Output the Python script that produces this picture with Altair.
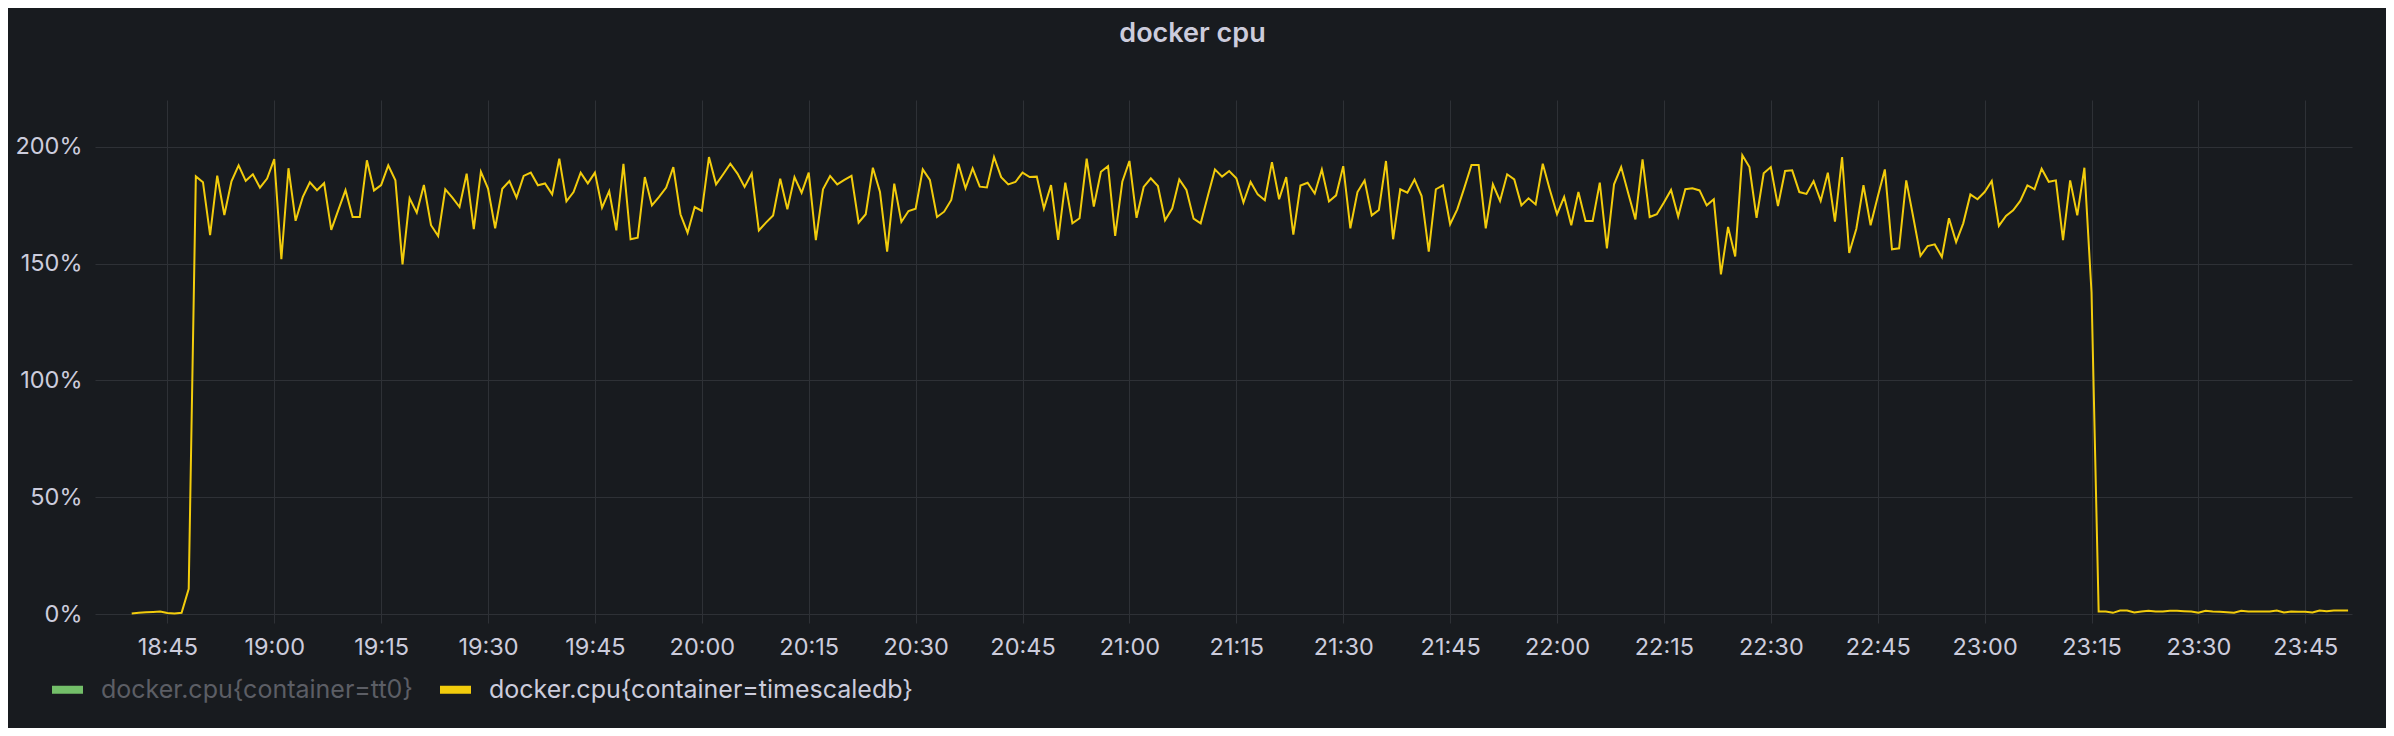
import altair as alt
import pandas as pd

# ---- data -------------------------------------------------------------
series_names = ["docker.cpu{container=tt0}", "docker.cpu{container=timescaledb}"]
series_colors = ["#73BF69", "#F2CC0C"]

start_time = "2024-01-01T18:40:00"   # first sample (UTC), one sample per minute
step_minutes = 1

cpu_startup = [0.2, 0.5, 0.7, 0.9, 1.1, 0.4, 0.2, 0.5, 10.8]

cpu_1848_1959 = [187.3, 184.8, 162.2, 187.6, 170.8, 185.2, 192.0, 185.4, 188.2, 182.5,
                 186.4, 194.7, 151.9, 190.8, 168.3, 178.4, 184.8, 181.4, 184.4, 164.4,
                 173.0, 181.4, 169.9, 169.9, 194.2, 181.3, 183.6, 192.0, 185.6, 149.6,
                 177.9, 171.8, 183.6, 166.4, 161.8, 181.8, 178.2, 174.2, 188.5, 164.7,
                 189.3, 182.1, 165.1, 182.0, 185.3, 178.2, 187.5, 188.9, 183.5, 184.3,
                 179.6, 194.9, 176.6, 180.6, 188.9, 184.3, 188.9, 173.9, 181.0, 164.2,
                 192.7, 160.4, 161.1, 187.0, 174.9, 178.5, 182.5, 191.3, 171.1, 163.2,
                 174.2, 172.5]

cpu_2001_2109 = [195.6, 183.9, 188.2, 192.7, 188.5, 182.8, 188.5, 164.2, 167.5, 170.6,
                 186.3, 173.2, 187.0, 180.3, 188.9, 160.0, 181.8, 187.5, 183.9, 185.8,
                 187.5, 167.5, 171.1, 191.0, 180.6, 155.1, 184.2, 167.8, 172.5, 173.5,
                 190.3, 185.8, 169.9, 172.2, 177.2, 192.7, 182.2, 190.7, 182.9, 182.6,
                 195.6, 187.0, 183.9, 184.9, 188.9, 187.0, 187.2, 173.5, 183.6, 160.1,
                 184.6, 167.2, 169.4, 194.9, 174.4, 189.3, 191.7, 161.8, 185.0, 193.9,
                 169.6, 182.8, 186.5, 183.2, 168.5, 173.5, 186.0, 181.5, 169.2]

cpu_2110_2222 = [167.2, 178.9, 190.3, 187.2, 189.6, 186.5, 176.1, 184.9, 179.6, 177.1,
                 193.4, 177.5, 187.0, 162.4, 183.4, 184.6, 180.0, 190.3, 176.6, 179.2,
                 191.7, 165.1, 180.6, 185.6, 170.6, 172.9, 193.9, 160.4, 181.8, 180.3,
                 186.0, 178.9, 155.1, 181.8, 183.5, 166.8, 173.2, 182.5, 192.2, 192.2,
                 165.1, 183.9, 176.8, 188.2, 186.0, 174.9, 177.9, 175.3, 192.7, 181.5,
                 171.1, 178.5, 166.4, 180.6, 168.2, 168.2, 184.6, 156.5, 183.9, 191.3,
                 180.0, 168.9, 194.6, 169.9, 171.1, 176.1, 181.5, 170.1, 181.8, 182.2,
                 181.3, 174.9, 177.5]

cpu_2223_2315 = [145.4, 165.7, 153.0, 196.4, 191.3, 169.6, 188.6, 191.3, 174.6, 189.6,
                 189.9, 180.6, 179.8, 185.3, 176.8, 188.9, 167.9, 195.6, 154.5, 164.9,
                 183.5, 166.4, 178.6, 190.3, 156.1, 156.5, 185.6, 169.6, 153.3, 157.5,
                 158.2, 152.8, 169.4, 159.2, 167.2, 179.6, 177.5, 180.6, 185.3, 166.1,
                 170.4, 172.8, 176.8, 183.5, 181.8, 190.6, 185.0, 185.6, 160.0, 185.6,
                 170.6, 191.0, 137.6]

cpu_shutdown = [1.07, 1.07, 0.5, 1.5, 1.5, 0.64, 1.07, 1.35, 1.07, 1.07,
                1.35, 1.35, 1.2, 1.07, 0.5, 1.35, 1.07, 0.93, 0.78, 0.5,
                1.35, 1.07, 1.07, 1.07, 1.07, 1.5, 0.64, 1.07, 0.93, 0.93,
                0.64, 1.5, 1.2, 1.5, 1.5, 1.5]

x_tick_labels = ["18:45", "19:00", "19:15", "19:30", "19:45", "20:00", "20:15",
                 "20:30", "20:45", "21:00", "21:15", "21:30", "21:45", "22:00",
                 "22:15", "22:30", "22:45", "23:00", "23:15", "23:30", "23:45"]
y_ticks = [0, 50, 100, 150, 200]

cpu = cpu_startup + cpu_1848_1959 + cpu_2001_2109 + cpu_2110_2222 + cpu_2223_2315 + cpu_shutdown
t0 = pd.Timestamp(start_time)
times = [(t0 + pd.Timedelta(minutes=i * step_minutes)).strftime("%Y-%m-%dT%H:%M:%SZ")
         for i in range(len(cpu))]
df = pd.DataFrame({"time": times, "cpu": cpu, "series": series_names[1]})


def dt(hh, mm, ss=0):
    return alt.DateTime(year=2024, month=1, date=1, hours=hh, minutes=mm,
                        seconds=ss, utc=True)


x_tick_values = [dt(int(s[:2]), int(s[3:])) for s in x_tick_labels]
x_domain = [dt(18, 34, 51), dt(23, 51, 33)]

# ---- style ------------------------------------------------------------
BG = "#181b1f"
GRID = "#2e3136"
TEXT = "#ccccdc"
DIM = "#5c5e65"
FONT = "Inter"

chart = alt.Chart(df).mark_line(interpolate="linear").encode(
    x=alt.X("time:T",
            scale=alt.Scale(type="utc", domain=x_domain, nice=False),
            axis=alt.Axis(labelExpr="utcFormat(datum.value, '%H:%M')",
                          values=x_tick_values,
                          title=None, domain=False, grid=True, gridColor=GRID,
                          tickColor=GRID, tickSize=9, labelPadding=12,
                          labelFont=FONT, labelFontSize=23.5, labelColor=TEXT,
                          labelFlush=False, labelOverlap=False)),
    y=alt.Y("cpu:Q",
            scale=alt.Scale(domain=[0, 220], nice=False, zero=True),
            axis=alt.Axis(values=y_ticks, labelExpr="datum.value + '%'", title=None,
                          domain=False, ticks=False, labelPadding=13, grid=True,
                          gridColor=GRID, labelFont=FONT, labelFontSize=23.5,
                          labelColor=TEXT)),
    color=alt.Color("series:N",
                    scale=alt.Scale(domain=series_names, range=series_colors),
                    legend=alt.Legend(orient="none", legendX=-47, legendY=570,
                                      direction="horizontal", title=None,
                                      symbolType="stroke", symbolSize=961,
                                      symbolStrokeWidth=8, labelFont=FONT,
                                      labelFontSize=25, labelOffset=14,
                                      labelLimit=0,
                                      columnPadding=10, padding=0,
                                      labelColor=alt.ExprRef(
                                          expr="datum.label == '" + series_names[0]
                                               + "' ? '" + DIM + "' : '" + TEXT + "'"))),
).properties(
    width=2257,
    height=514,
    title=alt.TitleParams("docker cpu", font=FONT, fontSize=27, fontWeight=600,
                          color=TEXT, anchor="middle", offset=52, dx=-31),
    autosize=alt.AutoSizeParams(type="none"),
    padding={"left": 87, "top": 92, "right": 34, "bottom": 114},
    background=BG,
).configure_view(stroke=None)

chart.save("out.html", embed_options={"renderer": "svg", "actions": False})
